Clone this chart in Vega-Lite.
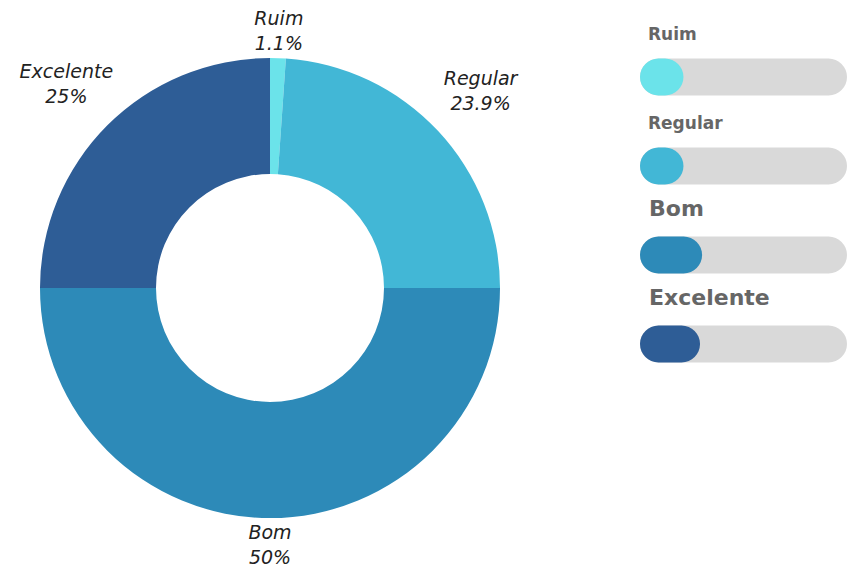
{
  "$schema": "https://vega.github.io/schema/vega-lite/v6.json",
  "background": "white",
  "padding": {"left": 0, "right": 0, "top": 6, "bottom": 0},
  "spacing": 100,
  "bounds": "flush",
  "config": {"view": {"stroke": null}},
  "data": {"values": [
    {"categoria": "Ruim", "percentual": 1.1, "progresso": 21, "ordem": 1},
    {"categoria": "Regular", "percentual": 23.9, "progresso": 21, "ordem": 2},
    {"categoria": "Bom", "percentual": 50, "progresso": 30, "ordem": 3},
    {"categoria": "Excelente", "percentual": 25, "progresso": 29, "ordem": 4}
  ]},
  "hconcat": [
    {
      "width": 540,
      "height": 564,
      "transform": [
        {"stack": "percentual", "groupby": [], "sort": [{"field": "ordem", "order": "ascending"}], "as": ["t0", "t1"]},
        {"calculate": "(datum.t0 + datum.t1) / 2", "as": "tm"},
        {"calculate": "datum.percentual + '%'", "as": "pct"}
      ],
      "layer": [
        {
          "mark": {"type": "arc", "outerRadius": 230, "innerRadius": 114},
          "encoding": {
            "theta": {"field": "t0", "type": "quantitative", "scale": {"domain": [0, 100], "zero": true, "nice": false}},
            "theta2": {"field": "t1"},
            "color": {
              "field": "categoria", "type": "nominal", "legend": null,
              "scale": {"domain": ["Ruim", "Regular", "Bom", "Excelente"], "range": ["#6be3ea", "#42b7d6", "#2d8ab8", "#2e5d96"]}
            }
          }
        },
        {
          "transform": [{"filter": "datum.categoria == 'Ruim' || datum.categoria == 'Bom'"}],
          "mark": {"type": "text", "radius": 257, "dy": -12.5, "font": "DejaVu Sans", "fontStyle": "italic", "fontSize": 19, "align": "center", "baseline": "middle", "color": "#222222"},
          "encoding": {"theta": {"field": "tm", "type": "quantitative", "stack": null}, "text": {"field": "categoria"}}
        },
        {
          "transform": [{"filter": "datum.categoria == 'Ruim' || datum.categoria == 'Bom'"}],
          "mark": {"type": "text", "radius": 257, "dy": 12.5, "font": "DejaVu Sans", "fontStyle": "italic", "fontSize": 19, "align": "center", "baseline": "middle", "color": "#222222"},
          "encoding": {"theta": {"field": "tm", "type": "quantitative", "stack": null}, "text": {"field": "pct"}}
        },
        {
          "transform": [{"filter": "datum.categoria == 'Regular' || datum.categoria == 'Excelente'"}],
          "mark": {"type": "text", "radius": 288, "dy": -12.5, "font": "DejaVu Sans", "fontStyle": "italic", "fontSize": 19, "align": "center", "baseline": "middle", "color": "#222222"},
          "encoding": {"theta": {"field": "tm", "type": "quantitative", "stack": null}, "text": {"field": "categoria"}}
        },
        {
          "transform": [{"filter": "datum.categoria == 'Regular' || datum.categoria == 'Excelente'"}],
          "mark": {"type": "text", "radius": 288, "dy": 12.5, "font": "DejaVu Sans", "fontStyle": "italic", "fontSize": 19, "align": "center", "baseline": "middle", "color": "#222222"},
          "encoding": {"theta": {"field": "tm", "type": "quantitative", "stack": null}, "text": {"field": "pct"}}
        }
      ]
    },
    {
      "width": 207,
      "height": 564,
      "encoding": {
        "y": {"field": "categoria", "type": "nominal", "axis": null,
          "scale": {"type": "point", "padding": 0, "domain": ["Ruim", "Regular", "Bom", "Excelente"], "range": [71, 338]}}
      },
      "layer": [
        {
          "mark": {"type": "bar", "size": 37, "cornerRadius": 18.5, "color": "#d9d9d9"},
          "encoding": {
            "x": {"datum": 100, "type": "quantitative", "scale": {"domain": [0, 100], "nice": false, "zero": true}, "axis": null},
            "x2": {"datum": 0}
          }
        },
        {
          "mark": {"type": "bar", "size": 37, "cornerRadius": 18.5},
          "encoding": {
            "x": {"field": "progresso", "type": "quantitative", "axis": null},
            "x2": {"datum": 0},
            "color": {
              "field": "categoria", "type": "nominal", "legend": null,
              "scale": {"domain": ["Ruim", "Regular", "Bom", "Excelente"], "range": ["#6be3ea", "#42b7d6", "#2d8ab8", "#2e5d96"]}
            }
          }
        },
        {
          "transform": [{"filter": "datum.categoria == 'Ruim' || datum.categoria == 'Regular'"}],
          "mark": {"type": "text", "align": "left", "baseline": "alphabetic", "dx": 8, "dy": -37, "font": "DejaVu Sans", "fontWeight": "bold", "fontSize": 17, "color": "#666666"},
          "encoding": {
            "x": {"datum": 0, "type": "quantitative"},
            "text": {"field": "categoria"}
          }
        },
        {
          "transform": [{"filter": "datum.categoria == 'Bom' || datum.categoria == 'Excelente'"}],
          "mark": {"type": "text", "align": "left", "baseline": "alphabetic", "dx": 9, "dy": -39, "font": "DejaVu Sans", "fontWeight": "bold", "fontSize": 22, "color": "#666666"},
          "encoding": {
            "x": {"datum": 0, "type": "quantitative"},
            "text": {"field": "categoria"}
          }
        }
      ]
    }
  ],
  "resolve": {"scale": {"color": "independent"}}
}
